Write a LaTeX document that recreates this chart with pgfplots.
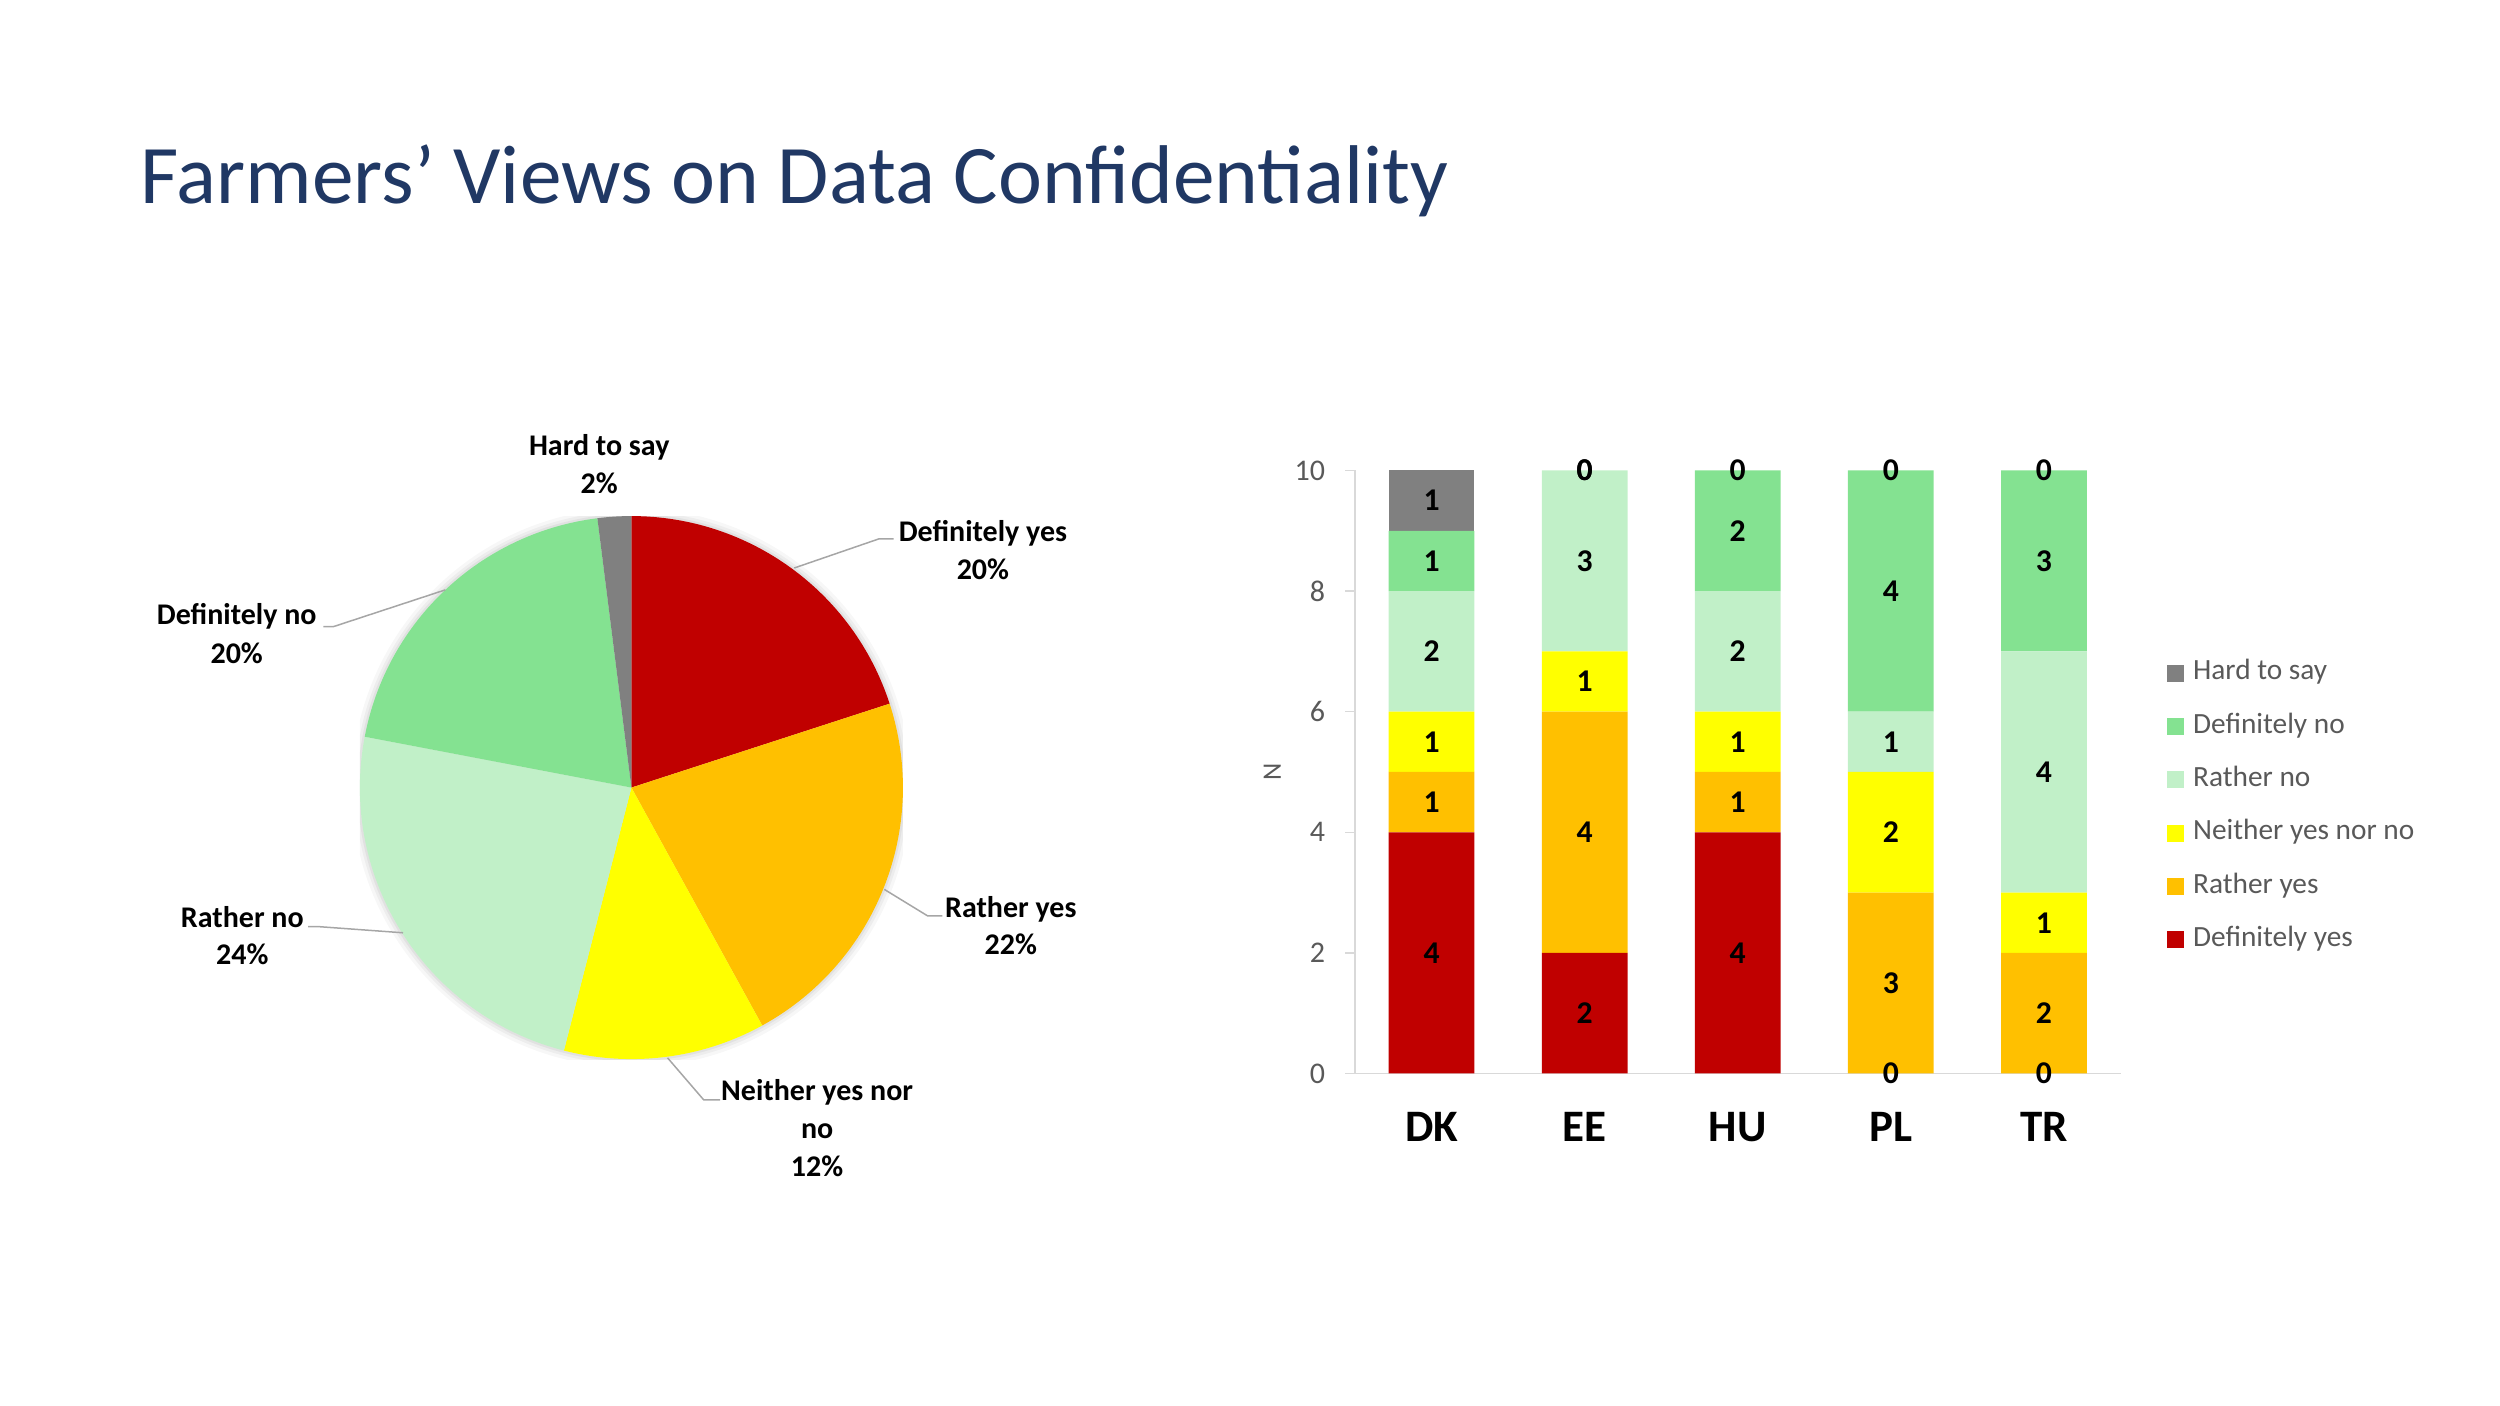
\documentclass[border=0pt]{standalone}
\usepackage{pgfplots}
\usepackage{pgfplotstable}
\pgfplotsset{compat=1.18}
\usepackage{fontspec}
\setmainfont{Carlito}

\definecolor{cDY}{HTML}{C00000}
\definecolor{cRY}{HTML}{FFC000}
\definecolor{cNY}{HTML}{FFFF00}
\definecolor{cRN}{HTML}{C1F0C8}
\definecolor{cDN}{HTML}{84E291}
\definecolor{cHS}{HTML}{808080}
\definecolor{titleblue}{HTML}{203864}
\definecolor{txtgray}{HTML}{595959}
\definecolor{axgray}{HTML}{D9D9D9}
\definecolor{leader}{HTML}{A6A6A6}

\pgfplotsset{/pgf/number format/assume math mode=true}

% answers per country (N)
\pgfplotstableread{
x DY RY NY RN DN HS
0 4  1  1  2  1  1
1 2  4  1  3  0  0
2 4  1  1  2  2  0
3 0  3  2  1  4  0
4 0  2  1  4  3  0
}\countrydata

% one pie slice: start (in %), share (in %), colour; clockwise from 12 o'clock
\newcommand\pieslice[3]{%
  \fill[#3] (axis cs:0,0) -- (axis cs:{cos(90-3.6*#1)},{sin(90-3.6*#1)})
    arc[start angle={90-3.6*#1}, end angle={90-3.6*(#1+#2)}, radius=1] -- cycle;}

\newcommand\lbl{\fontsize{9pt}{11.25pt}\selectfont\bfseries}

% shared geometry of the bar panel
\pgfplotsset{barpanel/.style={
  at={(406.5pt,99.75pt)}, anchor=south west,
  scale only axis, width=229.65pt, height=180.9pt,
  xmin=-0.5, xmax=4.5, ymin=0, ymax=10}}

\begin{document}
\begin{tikzpicture}
\path (0,0) rectangle (750pt,421.8pt);

% ---------- pie of all answers ----------
\begin{axis}[
  at={(189.42pt,185.52pt)}, anchor=center,
  scale only axis, width=162.9pt, height=162.9pt,
  xmin=-1, xmax=1, ymin=-1, ymax=1, hide axis]
  \fill[black, opacity=0.03] (axis cs:0,0) circle[radius=1.03];
  \fill[black, opacity=0.04] (axis cs:0,0) circle[radius=1.018];
  \fill[black, opacity=0.05] (axis cs:0,0) circle[radius=1.008];
  \pieslice{0}{20}{cDY}
  \pieslice{20}{22}{cRY}
  \pieslice{42}{12}{cNY}
  \pieslice{54}{24}{cRN}
  \pieslice{78}{20}{cDN}
  \pieslice{98}{2}{cHS}
\end{axis}

% ---------- stacked bars per country ----------
\begin{axis}[
  barpanel,
  ybar stacked, bar width=0.56,
  axis x line*=bottom, axis y line*=left,
  axis line style={axgray, line width=0.45pt},
  xtick={0,...,4}, xticklabels={DK,EE,HU,PL,TR},
  x tick style={draw=none},
  ytick={0,2,...,10},
  y tick style={axgray, line width=0.45pt},
  tick align=outside, major tick length=3pt,
  yticklabel style={font=\fontsize{9pt}{10pt}\selectfont, text=txtgray,
    inner sep=0pt, anchor=east, xshift=-5.8pt},
  xticklabel style={font=\fontsize{13.5pt}{15pt}\selectfont\bfseries,
    inner sep=0pt, anchor=north, yshift=-8.6pt},
  ylabel={N},
  ylabel style={at={(axis description cs:-0.108,0.5)}, anchor=center,
    font=\fontsize{8pt}{9pt}\selectfont, text=txtgray, inner sep=0pt},
  bar/.style={draw=none, fill=#1,
    legend image code/.code={\fill[##1] (0pt,-2.55pt) rectangle (5.1pt,2.55pt);}},
  reverse legend,
  legend cell align=left,
  legend style={at={(1.0609,0.685)}, anchor=north west, draw=none, fill=none,
    inner sep=0pt, outer sep=0pt, font=\fontsize{8.8pt}{10pt}\selectfont,
    text=txtgray, row sep=8.4pt, column sep=2.7pt,
    nodes={inner sep=0pt, text height=5.8pt, text depth=1.8pt}},
]
  \addplot[bar=cDY] table[x=x, y=DY] {\countrydata};
  \addlegendentry{Definitely yes}
  \addplot[bar=cRY] table[x=x, y=RY] {\countrydata};
  \addlegendentry{Rather yes}
  \addplot[bar=cNY] table[x=x, y=NY] {\countrydata};
  \addlegendentry{Neither yes nor no}
  \addplot[bar=cRN] table[x=x, y=RN] {\countrydata};
  \addlegendentry{Rather no}
  \addplot[bar=cDN] table[x=x, y=DN] {\countrydata};
  \addlegendentry{Definitely no}
  \addplot[bar=cHS] table[x=x, y=HS] {\countrydata};
  \addlegendentry{Hard to say}
\end{axis}

% ---------- value labels, centred in each segment ----------
\begin{axis}[
  barpanel, hide axis,
  lab/.style={draw=none, mark=none, nodes near coords, point meta=explicit,
    every node near coord/.append style={font=\fontsize{9.5pt}{10pt}\selectfont\bfseries,
      text=black, anchor=center, inner sep=0pt}},
]
  \addplot[lab] table[x=x, y expr=\thisrow{DY}/2, meta=DY] {\countrydata};
  \addplot[lab] table[x=x, y expr=\thisrow{DY}+\thisrow{RY}/2, meta=RY] {\countrydata};
  \addplot[lab] table[x=x, y expr=\thisrow{DY}+\thisrow{RY}+\thisrow{NY}/2, meta=NY] {\countrydata};
  \addplot[lab] table[x=x, y expr=\thisrow{DY}+\thisrow{RY}+\thisrow{NY}+\thisrow{RN}/2, meta=RN] {\countrydata};
  \addplot[lab] table[x=x, y expr=\thisrow{DY}+\thisrow{RY}+\thisrow{NY}+\thisrow{RN}+\thisrow{DN}/2, meta=DN] {\countrydata};
  \addplot[lab] table[x=x, y expr=\thisrow{DY}+\thisrow{RY}+\thisrow{NY}+\thisrow{RN}+\thisrow{DN}+\thisrow{HS}/2, meta=HS] {\countrydata};
\end{axis}

% ---------- title, pie labels and leader lines (pixel grid) ----------
\begin{scope}[x=0.3pt, y=-0.3pt, shift={(0pt,421.8pt)}]
  \node[anchor=base west, inner sep=0pt, text=titleblue,
    font=\fontsize{25pt}{30pt}\selectfont] at (140,204)
    {Farmers’ Views on Data Confidentiality};

  \draw[leader, line width=0.45pt] (794.3,568) -- (878.9,538.9) -- (893.5,538.9);
  \draw[leader, line width=0.45pt] (884.3,889.4) -- (927.6,915.9) -- (942.3,915.9);
  \draw[leader, line width=0.45pt] (667.5,1057.8) -- (703.8,1100) -- (720,1100);
  \draw[leader, line width=0.45pt] (403,932.8) -- (318,926.6) -- (308,926.6);
  \draw[leader, line width=0.45pt] (445.3,589.9) -- (333.3,626.7) -- (323.3,626.7);

  \begin{scope}[every node/.style={anchor=base, inner sep=0pt, font=\lbl}]
    \node at (599.2,456)   {Hard to say};
    \node at (599.2,493.3) {2\%};
    \node at (982.9,541.4) {Definitely yes};
    \node at (982.9,579.2) {20\%};
    \node at (1010.8,917.4) {Rather yes};
    \node at (1010.8,954.7) {22\%};
    \node at (817.1,1101)  {Neither yes nor};
    \node at (817.1,1139)  {no};
    \node at (817.1,1177)  {12\%};
    \node at (242.3,928)   {Rather no};
    \node at (242.3,965)   {24\%};
    \node at (236.7,625)   {Definitely no};
    \node at (236.7,663.3) {20\%};
  \end{scope}
\end{scope}
\end{tikzpicture}
\end{document}
